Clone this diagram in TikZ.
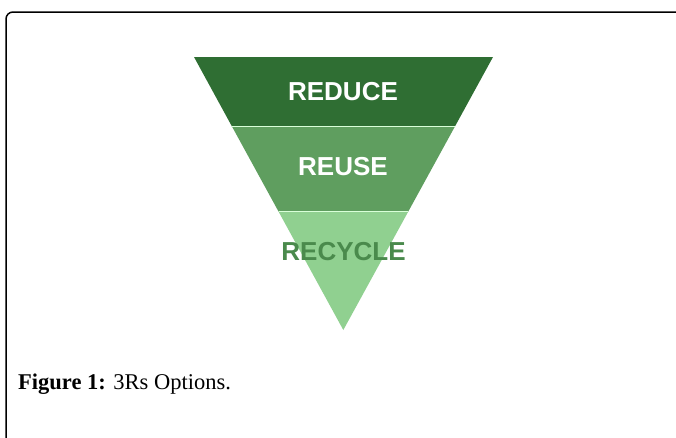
\documentclass[tikz,border=0pt]{standalone}
\usepackage{fontspec}
\setmainfont{Liberation Serif}
\newfontfamily\levelfont{Liberation Sans}
\definecolor{reducegreen}{HTML}{2F6E33}
\definecolor{reusegreen}{HTML}{5F9E5F}
\definecolor{recyclegreen}{HTML}{90D090}
\definecolor{recycletext}{HTML}{4A8A4C}
\begin{document}
\begin{tikzpicture}[x=1pt,y=-1pt,line width=0.4pt,every node/.style={inner sep=0pt},
  level/.style={font=\levelfont\bfseries\fontsize{26}{30}\selectfont,text=white}]
\useasboundingbox (0,0) rectangle (676,437);
\coordinate (TL) at (194,57);
\coordinate (TR) at (493,57);
\coordinate (A) at (343.3,330);
\coordinate (ML) at (231.7,126);
\coordinate (MR) at (455.2,126);
\coordinate (BL) at (278.5,211.5);
\coordinate (BR) at (408.3,211.5);
% frame, open to the right and below
\draw[line width=1.5pt,rounded corners=7pt] (6,445) -- (6,12) -- (684,12);
% the three bands
\fill[reducegreen] (TL) -- (TR) -- (MR) -- (ML) -- cycle;
\fill[reusegreen] (ML) -- (MR) -- (BR) -- (BL) -- cycle;
\fill[recyclegreen] (BL) -- (BR) -- (A) -- cycle;
\draw[white!85!green,line width=1pt] (ML) -- (MR);
\draw[white!85!green,line width=1pt] (BL) -- (BR);
\node[level] (reduce) at (343,91.7) {REDUCE};
\node[level] (reuse) at (343,166.7) {REUSE};
\node[level,text=recycletext] (recycle) at (343.5,251.7) {RECYCLE};
\node[anchor=base west,font=\fontsize{22.5}{26}\selectfont] (caption) at (18,389) {\textbf{Figure 1:} 3Rs Options.};
\end{tikzpicture}
\end{document}
